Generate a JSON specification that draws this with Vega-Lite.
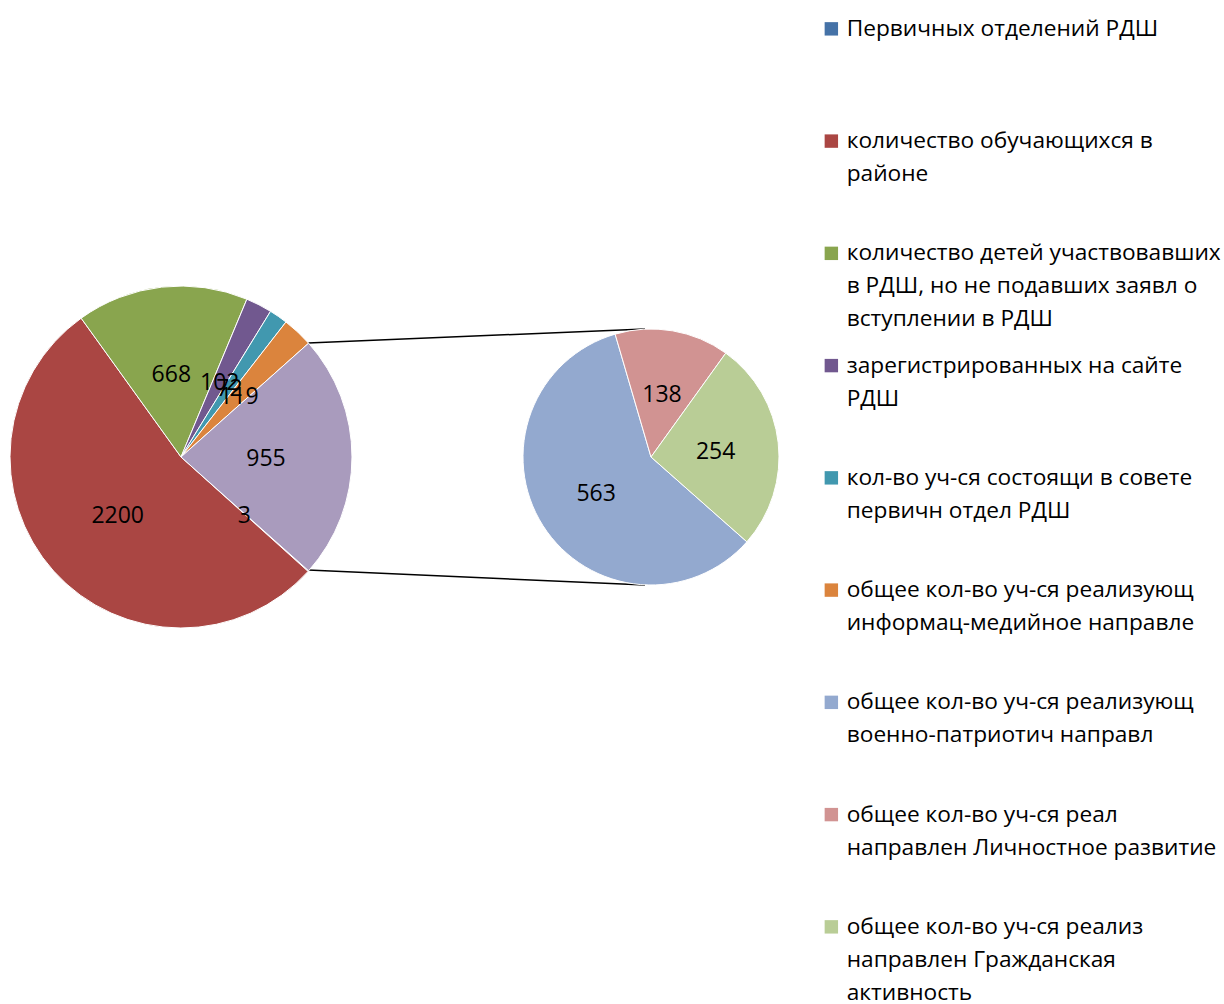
{
  "$schema": "https://vega.github.io/schema/vega-lite/v6.json",
  "width": 1224,
  "height": 1004,
  "autosize": "none",
  "padding": 0,
  "background": "white",
  "config": {
    "view": {"stroke": null},
    "style": {"guide-label": {"lineHeight": 33, "dy": -11.1}}
  },
  "datasets": {
    "slices": [
      {"pie": "main", "ord": 1, "name": "Первичных отделений РДШ", "value": 3},
      {"pie": "main", "ord": 2, "name": "количество обучающихся в районе", "value": 2200},
      {"pie": "main", "ord": 3, "name": "количество детей участвовавших в РДШ, но не подавших заявл о вступлении в РДШ", "value": 668},
      {"pie": "main", "ord": 4, "name": "зарегистрированных на сайте РДШ", "value": 102},
      {"pie": "main", "ord": 5, "name": "кол-во уч-ся состоящи в совете первичн отдел РДШ", "value": 72},
      {"pie": "main", "ord": 6, "name": "общее кол-во уч-ся реализующ информац-медийное направле", "value": 119},
      {"pie": "main", "ord": 7, "name": "Другой", "value": 955},
      {"pie": "sec", "ord": 1, "name": "общее кол-во уч-ся реализующ военно-патриотич направл", "value": 563},
      {"pie": "sec", "ord": 2, "name": "общее кол-во уч-ся реал направлен Личностное развитие", "value": 138},
      {"pie": "sec", "ord": 3, "name": "общее кол-во уч-ся реализ направлен Гражданская активность", "value": 254}
    ],
    "connectors": [
      {"x": 308, "y": 343, "x2": 645, "y2": 329},
      {"x": 308, "y": 570, "x2": 645, "y2": 585}
    ]
  },
  "layer": [
    {
      "data": {"name": "connectors"},
      "mark": {"type": "rule", "color": "black", "strokeWidth": 1.5},
      "encoding": {
        "x": {"field": "x", "type": "quantitative", "scale": {"domain": [0, 1224], "range": [0, 1224]}, "axis": null},
        "x2": {"field": "x2"},
        "y": {"field": "y", "type": "quantitative", "scale": {"domain": [0, 1004], "range": [0, 1004]}, "axis": null},
        "y2": {"field": "y2"}
      }
    },
    {
      "data": {"name": "slices"},
      "transform": [{"filter": "datum.pie == 'main'"}],
      "mark": {"type": "arc", "radius": 171, "y": 457, "stroke": "white", "strokeWidth": 1},
      "encoding": {
        "x": {"field": "pie", "type": "nominal", "scale": {"type": "point", "domain": ["main", "sec"], "range": [181, 651], "padding": 0}, "axis": null},
        "theta": {"field": "value", "type": "quantitative", "stack": true, "scale": {"range": [2.29918, 8.58237]}},
        "order": {"field": "ord", "type": "quantitative"},
        "color": {
          "field": "name", "type": "nominal",
          "scale": {
            "domain": ["Первичных отделений РДШ", "количество обучающихся в районе", "количество детей участвовавших в РДШ, но не подавших заявл о вступлении в РДШ", "зарегистрированных на сайте РДШ", "кол-во уч-ся состоящи в совете первичн отдел РДШ", "общее кол-во уч-ся реализующ информац-медийное направле", "общее кол-во уч-ся реализующ военно-патриотич направл", "общее кол-во уч-ся реал направлен Личностное развитие", "общее кол-во уч-ся реализ направлен Гражданская активность", "Другой"],
            "range": ["#4572A7", "#AA4643", "#89A54E", "#71588F", "#4198AF", "#DB843D", "#93A9CF", "#D19392", "#B9CD96", "#A99BBD"]
          },
          "legend": {
            "values": ["Первичных отделений РДШ", "количество обучающихся в районе", "количество детей участвовавших в РДШ, но не подавших заявл о вступлении в РДШ", "зарегистрированных на сайте РДШ", "кол-во уч-ся состоящи в совете первичн отдел РДШ", "общее кол-во уч-ся реализующ информац-медийное направле", "общее кол-во уч-ся реализующ военно-патриотич направл", "общее кол-во уч-ся реал направлен Личностное развитие", "общее кол-во уч-ся реализ направлен Гражданская активность"],
            "title": null,
            "orient": "none",
            "legendX": 820,
            "legendY": 17.5,
            "padding": 0,
            "symbolType": "square",
            "symbolSize": 180,
            "symbolStrokeWidth": 0,
            "labelFont": "Open Sans",
            "labelFontSize": 22.7,
            "labelColor": "#000000",
            "labelOffset": 4,
            "labelLimit": 420,
            "labelBaseline": "top",
            "rowPadding": 23.25,
            "labelExpr": "datum.label == 'Первичных отделений РДШ' ? ['Первичных отделений РДШ', '', ''] : datum.label == 'количество обучающихся в районе' ? ['количество обучающихся в', 'районе', ''] : datum.label == 'зарегистрированных на сайте РДШ' ? ['зарегистрированных на сайте', 'РДШ', ''] : datum.label == 'кол-во уч-ся состоящи в совете первичн отдел РДШ' ? ['кол-во уч-ся состоящи в совете', 'первичн отдел РДШ', ''] : datum.label == 'общее кол-во уч-ся реализующ информац-медийное направле' ? ['общее кол-во уч-ся реализующ', 'информац-медийное направле', ''] : datum.label == 'общее кол-во уч-ся реализующ военно-патриотич направл' ? ['общее кол-во уч-ся реализующ', 'военно-патриотич направл', ''] : datum.label == 'общее кол-во уч-ся реал направлен Личностное развитие' ? ['общее кол-во уч-ся реал', 'направлен Личностное развитие', ''] : datum.label == 'общее кол-во уч-ся реализ направлен Гражданская активность' ? ['общее кол-во уч-ся реализ', 'направлен Гражданская', 'активность'] : ['количество детей участвовавших', 'в РДШ, но не подавших заявл о', 'вступлении в РДШ']"
          }
        }
      }
    },
    {
      "data": {"name": "slices"},
      "transform": [{"filter": "datum.pie == 'main'"}],
      "mark": {"type": "text", "radius": 85, "y": 459, "font": "Open Sans", "fontSize": 23, "color": "black"},
      "encoding": {
        "x": {"field": "pie", "type": "nominal", "scale": {"type": "point", "domain": ["main", "sec"], "range": [181, 651], "padding": 0}, "axis": null},
        "theta": {"field": "value", "type": "quantitative", "stack": true, "scale": {"range": [2.29918, 8.58237]}},
        "order": {"field": "ord", "type": "quantitative"},
        "text": {"field": "value", "type": "quantitative", "format": "d"}
      }
    },
    {
      "data": {"name": "slices"},
      "transform": [{"filter": "datum.pie == 'sec'"}],
      "mark": {"type": "arc", "radius": 128, "y": 457, "stroke": "white", "strokeWidth": 1},
      "encoding": {
        "x": {"field": "pie", "type": "nominal", "scale": {"type": "point", "domain": ["main", "sec"], "range": [181, 651], "padding": 0}, "axis": null},
        "theta": {"field": "value", "type": "quantitative", "stack": true, "scale": {"range": [2.295, 8.57819]}},
        "order": {"field": "ord", "type": "quantitative"},
        "color": {"field": "name", "type": "nominal"}
      }
    },
    {
      "data": {"name": "slices"},
      "transform": [{"filter": "datum.pie == 'sec'"}],
      "mark": {"type": "text", "radius": 65, "y": 459, "font": "Open Sans", "fontSize": 23, "color": "black"},
      "encoding": {
        "x": {"field": "pie", "type": "nominal", "scale": {"type": "point", "domain": ["main", "sec"], "range": [181, 651], "padding": 0}, "axis": null},
        "theta": {"field": "value", "type": "quantitative", "stack": true, "scale": {"range": [2.295, 8.57819]}},
        "order": {"field": "ord", "type": "quantitative"},
        "text": {"field": "value", "type": "quantitative", "format": "d"}
      }
    }
  ],
  "resolve": {"scale": {"theta": "independent", "x": "independent", "y": "independent"}}
}
